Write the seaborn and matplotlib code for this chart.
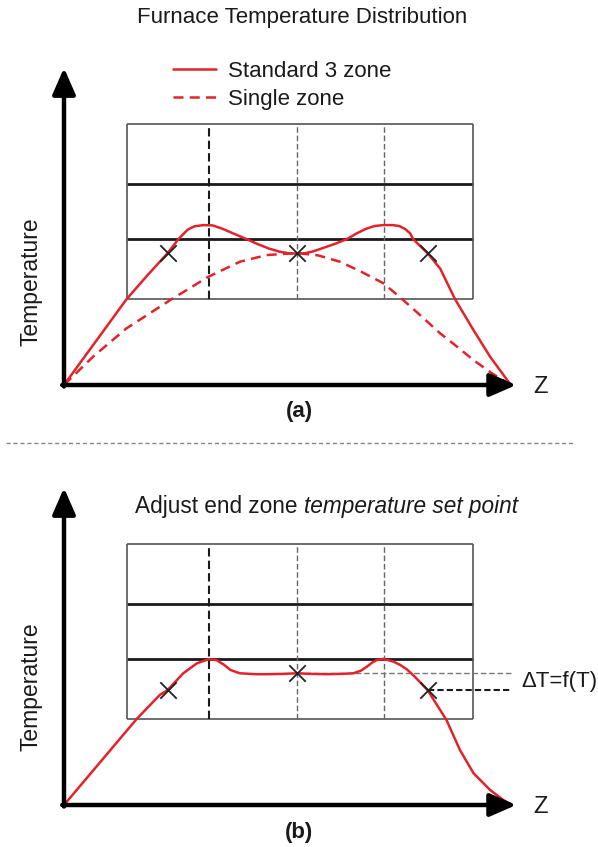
import seaborn as sns
import matplotlib.pyplot as plt
from matplotlib.lines import Line2D

# zonas del horno (posicion Z, 0-100) y niveles de banda (temperatura, 0-100)
zone_edges = [13.9, 32.2, 51.8, 71.1, 90.9]
band_levels = [28.6, 48.6, 67.0, 87.0]

# (a) perfil estandar de 3 zonas
z_std_a = [0, 13.9, 18.5, 23.0, 25.4, 27.5, 29.0, 31.0, 33.0, 35.0, 37.5, 40.6, 43.0, 45.5,
           48.0, 50.0, 51.8, 53.5, 55.5, 58.0, 60.5, 62.8, 65.0, 67.0, 69.0, 71.0, 73.0,
           74.5, 75.8, 76.9, 77.6, 80.8, 83.6, 86.9, 91.0, 94.7, 99.3]
t_std_a = [0, 28.6, 36.5, 43.9, 48.6, 51.8, 52.9, 53.3, 53.2, 52.2, 50.6, 48.6, 47.0, 45.5,
           44.4, 43.9, 43.8, 43.9, 44.6, 45.9, 47.2, 48.6, 50.5, 52.0, 53.0, 53.3, 53.3,
           53.0, 52.0, 50.6, 48.6, 43.9, 38.8, 28.6, 18.3, 9.4, 0]

# (a) perfil de zona unica
z_single_a = [0, 6.5, 13.9, 23.6, 32.1, 39.1, 45.0, 51.8, 56.5, 61.3, 66.0, 71.0, 75.4,
              79.5, 83.6, 87.5, 91.0, 95.0, 99.3]
t_single_a = [0, 9.5, 18.9, 28.3, 36.1, 41.1, 43.3, 44.0, 43.2, 41.1, 37.8, 33.9, 28.3,
              22.8, 17.2, 12.6, 8.3, 4.0, 0]

# (b) perfil con zonas extremas ajustadas
z_adj_b = [0, 16.1, 21.3, 23.0, 26.5, 29.5, 32.1, 33.9, 35.5, 37.0, 39.1, 42.8, 45.0, 48.5,
           51.8, 55.0, 58.4, 61.5, 64.3, 66.0, 67.3, 68.5, 69.5, 71.0, 73.2, 74.7, 76.2,
           77.6, 80.8, 85.0, 88.0, 91.0, 94.7, 97.6, 99.5]
t_adj_b = [0, 28.6, 36.7, 38.3, 43.9, 47.2, 48.6, 48.3, 46.8, 45.0, 43.9, 43.6, 43.6, 43.7,
           43.9, 43.7, 43.6, 43.7, 43.9, 44.8, 46.1, 47.5, 48.3, 48.7, 47.8, 46.7, 45.2,
           43.3, 38.3, 28.3, 18.3, 10.6, 5.0, 1.7, 0]

# termopares
tc_z = [23.0, 51.8, 80.8]
tc_t_a = [43.9, 43.9, 43.9]
tc_t_b = [38.3, 43.9, 38.3]

RED = '#e3222a'
INK = '#1a1a1a'

sns.set_style('white')
plt.rcParams['font.family'] = ['Liberation Sans', 'DejaVu Sans']

fig = plt.figure(figsize=(5.98, 8.47), dpi=100)
W, H = 598, 847


def make_axes(y_origin):
    ax = fig.add_axes([64 / W, 1 - y_origin / H, 450 / W, 300 / H])
    ax.set_xlim(0, 100)
    ax.set_ylim(0, 100)
    ax.axis('off')
    return ax


def furnace(ax):
    # ejes con flechas
    arrow = dict(arrowstyle='-|>,head_length=0.8,head_width=0.35', lw=3.2, color='black',
                 shrinkA=0, shrinkB=0, mutation_scale=20)
    ax.annotate('', xy=(100.5, 0), xytext=(-0.4, 0), arrowprops=arrow, annotation_clip=False)
    ax.annotate('', xy=(0, 105.7), xytext=(0, -0.5), arrowprops=arrow, annotation_clip=False)
    # caja de zonas
    ax.hlines([band_levels[0], band_levels[-1]], zone_edges[0], zone_edges[-1], color='#555555', lw=1.2)
    ax.hlines(band_levels[1:-1], zone_edges[0], zone_edges[-1], color=INK, lw=2.0)
    ax.vlines([zone_edges[0], zone_edges[-1]], band_levels[0], band_levels[-1], color='#555555', lw=1.2)
    ax.vlines(zone_edges[1], band_levels[0], band_levels[-1], color=INK, lw=1.5, linestyles=(0, (4, 2)))
    ax.vlines(zone_edges[2:4], band_levels[0], band_levels[-1], color='#666666', lw=1.0, linestyles=(0, (4, 2)))
    ax.text(104.2, -0.7, 'Z', fontsize=17, va='center', ha='left', color=INK)


ax_a = make_axes(385)
furnace(ax_a)
sns.lineplot(x=z_std_a, y=t_std_a, ax=ax_a, color=RED, lw=1.8, sort=False, label='Standard 3 zone')
sns.lineplot(x=z_single_a, y=t_single_a, ax=ax_a, color=RED, lw=1.8, sort=False,
             linestyle=(0, (4, 2.5)), label='Single zone')
sns.scatterplot(x=tc_z, y=tc_t_a, ax=ax_a, marker='x', s=140, color='#222222', linewidth=1.3, zorder=5)
leg = ax_a.legend(loc='upper left', bbox_to_anchor=(0.243, 1.08), frameon=False, fontsize=16,
                  handlelength=1.9, handletextpad=0.55, labelspacing=0.3, borderpad=0, borderaxespad=0)
for txt in leg.get_texts():
    txt.set_color(INK)

ax_b = make_axes(805)
furnace(ax_b)
ax_b.hlines(tc_t_b[1], tc_z[1], 99.6, color='#777777', lw=1.0, linestyles=(0, (4, 2)))
ax_b.hlines(tc_t_b[2], tc_z[2], 99.6, color=INK, lw=1.5, linestyles=(0, (3, 1.5)))
sns.lineplot(x=z_adj_b, y=t_adj_b, ax=ax_b, color=RED, lw=1.8, sort=False)
sns.scatterplot(x=tc_z, y=tc_t_b, ax=ax_b, marker='x', s=140, color='#222222', linewidth=1.3, zorder=5)
ax_b.text(101.7, (tc_t_b[1] + tc_t_b[2]) / 2, 'ΔT=f(T)', fontsize=16, va='center', ha='left', color=INK)

# textos de la figura
fig.text(302 / W, 1 - 18 / H, 'Furnace Temperature Distribution', fontsize=16, ha='center', va='center', color=INK)
fig.text(31 / W, 1 - 282 / H, 'Temperature', fontsize=16.5, rotation=90, ha='center', va='center', color=INK)
fig.text(31 / W, 1 - 687 / H, 'Temperature', fontsize=16.5, rotation=90, ha='center', va='center', color=INK)
fig.text(299 / W, 1 - 411 / H, '(a)', fontsize=16, fontweight='bold', ha='center', va='center', color=INK)
fig.text(299 / W, 1 - 832 / H, '(b)', fontsize=16, fontweight='bold', ha='center', va='center', color=INK)
t1 = fig.text(135 / W, 1 - 507 / H, 'Adjust end zone ', fontsize=16.3, ha='left', va='center', color=INK)
ax_b.annotate('temperature set point', xy=(1, 0.5), xycoords=t1, fontsize=16.3, style='italic',
              ha='left', va='center', color=INK)

fig.add_artist(Line2D([6 / W, 573 / W], [1 - 443 / H, 1 - 443 / H], color='#888888', lw=1.0,
                      linestyle=(0, (3, 2)), transform=fig.transFigure))

plt.savefig('out.png', dpi=100)
